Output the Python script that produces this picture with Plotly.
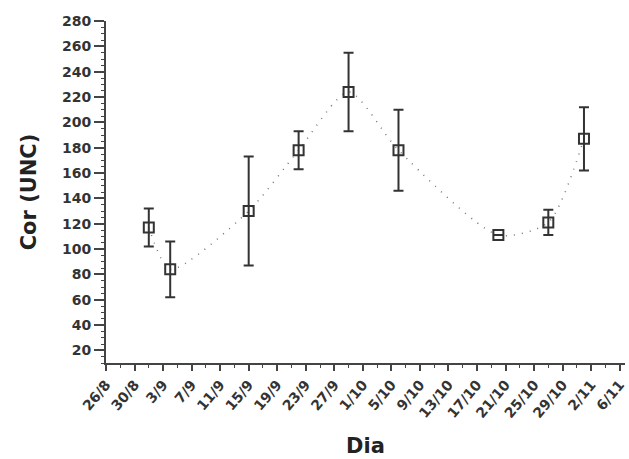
import plotly.graph_objects as go

dates = ["2013-09-01", "2013-09-04", "2013-09-15", "2013-09-22", "2013-09-29",
         "2013-10-06", "2013-10-20", "2013-10-27", "2013-11-01"]
cor = [117, 84, 130, 178, 224, 178, 111, 121, 187]
err = [15, 22, 43, 15, 31, 32, 0, 10, 25]

tick_dates = ["2013-08-26", "2013-08-30", "2013-09-03", "2013-09-07", "2013-09-11",
              "2013-09-15", "2013-09-19", "2013-09-23", "2013-09-27", "2013-10-01",
              "2013-10-05", "2013-10-09", "2013-10-13", "2013-10-17", "2013-10-21",
              "2013-10-25", "2013-10-29", "2013-11-02", "2013-11-06"]
tick_text = ["26/8", "30/8", "3/9", "7/9", "11/9", "15/9", "19/9", "23/9", "27/9", "1/10",
             "5/10", "9/10", "13/10", "17/10", "21/10", "25/10", "29/10", "2/11", "6/11"]
y_ticks = list(range(20, 281, 20))

fig = go.Figure()
fig.add_trace(go.Scatter(
    x=dates, y=cor, mode="lines",
    line=dict(color="#777777", width=1.5, dash="1px,7px", shape="spline", smoothing=0.7),
    hoverinfo="skip", showlegend=False))
fig.add_trace(go.Scatter(
    x=dates, y=cor, mode="markers",
    marker=dict(symbol="square-open", size=10, color="#333333", line=dict(width=2, color="#333333")),
    error_y=dict(type="data", array=err, visible=True, color="#333333", thickness=2, width=5),
    showlegend=False))

axis_font = dict(family="DejaVu Sans", size=14, color="#333333", weight="bold")
title_font = dict(family="DejaVu Sans", size=21, color="#222", weight="bold")
fig.update_layout(
    width=629, height=459,
    margin=dict(l=106, r=2, t=21, b=96),
    plot_bgcolor="white", paper_bgcolor="white",
    xaxis=dict(
        type="date", range=["2013-08-26", "2013-11-06 18:00"],
        tickvals=tick_dates, ticktext=tick_text, tickangle=-50,
        ticklabeloverflow="allow",
        ticks="outside", ticklen=6, tickwidth=1.5, tickcolor="#444",
        minor=dict(ticks="outside", ticklen=3, tickwidth=1, tickcolor="#444", dtick=2 * 86400000),
        showline=True, linecolor="#444", linewidth=2, showgrid=False, zeroline=False,
        tickfont=axis_font,
        title=dict(text="Dia", font=title_font, standoff=18),
    ),
    yaxis=dict(
        range=[10, 280], tickvals=y_ticks,
        ticks="outside", ticklen=10, tickwidth=1.5, tickcolor="#444",
        minor=dict(ticks="outside", ticklen=3, tickwidth=1, tickcolor="#444", dtick=5),
        showline=True, linecolor="#444", linewidth=2, showgrid=False, zeroline=False,
        tickfont=axis_font,
        title=dict(text="Cor (UNC)", font=title_font, standoff=20),
    ),
)
fig.write_html("out.html")
